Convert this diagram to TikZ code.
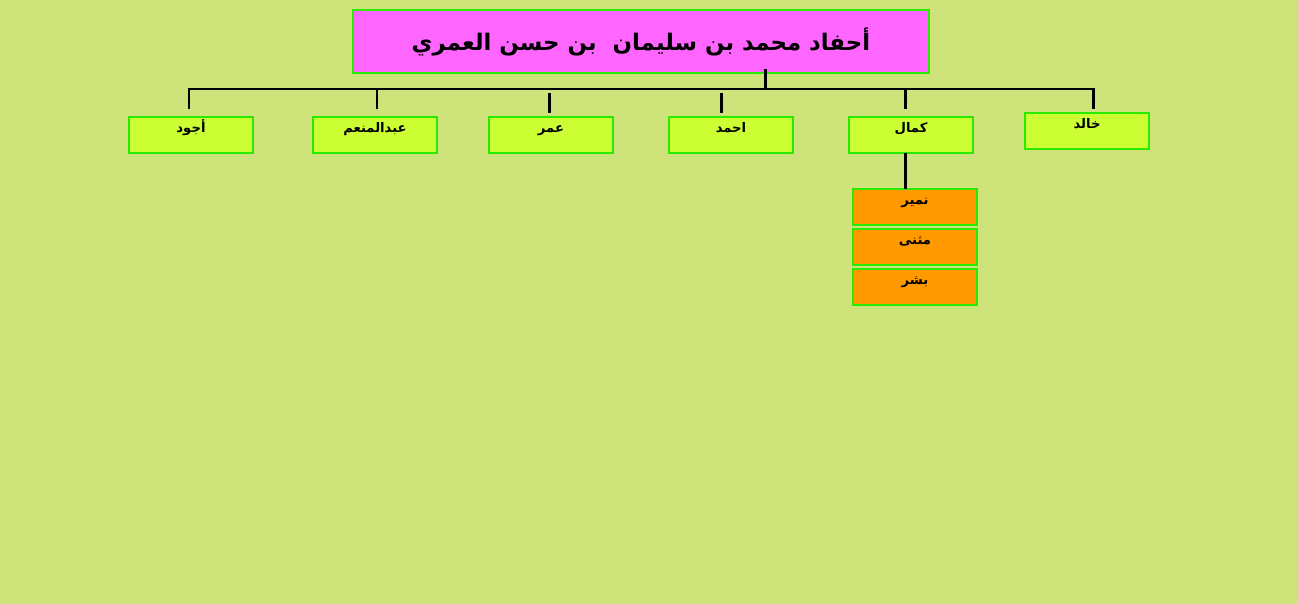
\documentclass[tikz,border=0pt]{standalone}
\usepackage{fontspec}
\newfontfamily\arabicfont[Script=Arabic]{DejaVu Sans}
\TeXXeTstate=1
\usepackage{tikz}
\usetikzlibrary{positioning}
\definecolor{bgcol}{RGB}{207,227,123}
\definecolor{edgegreen}{RGB}{40,235,0}
\definecolor{limefill}{RGB}{204,255,51}
\definecolor{rootfill}{RGB}{255,102,255}
\definecolor{kidfill}{RGB}{255,153,0}

\begin{document}
\begin{tikzpicture}[x=0.02cm,y=-0.02cm,
  rootbox/.style={draw=edgegreen,line width=0.7pt,fill=rootfill,minimum width=11.52cm,minimum height=1.26cm,inner sep=0pt,font=\arabicfont\bfseries\fontsize{13}{16}\selectfont},
  sonbox/.style={draw=edgegreen,line width=0.7pt,fill=limefill,minimum width=2.48cm,minimum height=0.72cm,inner sep=0pt,text height=0.25cm,text depth=0.33cm,font=\arabicfont\bfseries\fontsize{7.5}{9}\selectfont},
  kidbox/.style={sonbox,fill=kidfill},
  link/.style={line width=1.7pt}]
\fill[bgcol] (0,0) rectangle (1298,604);
\useasboundingbox (0,0) rectangle (1298,604);
% root
\node[rootbox] (root) at (641,41.5) {\beginR أحفاد محمد بن سليمان~~بن حسن العمري\endR};
% sons
\node[sonbox] (s1) at (191,135) {\beginR أجود\endR};
\node[sonbox] (s2) at (375,135) {\beginR عبدالمنعم\endR};
\node[sonbox] (s3) at (551,135) {\beginR عمر\endR};
\node[sonbox] (s4) at (731,135) {\beginR احمد\endR};
\node[sonbox] (s5) at (911,135) {\beginR كمال\endR};
\node[sonbox] (s6) at (1087,131) {\beginR خالد\endR};
% sons of kamal
\node[kidbox] (k1) at (915,207) {\beginR نمير\endR};
\node[kidbox] (k2) at (915,247) {\beginR مثنى\endR};
\node[kidbox] (k3) at (915,287) {\beginR بشر\endR};
% bar
\coordinate (bar) at (765,89);
\coordinate (h1) at (189,89);
\coordinate (h6) at (1093,89);
\coordinate (d1) at (189,109);
\coordinate (d2) at (377,109);
\coordinate (u2) at (377,89);
\coordinate (u3) at (549,93);
\coordinate (d3) at (549,113);
\coordinate (u4) at (721,93);
\coordinate (d4) at (721,113);
\coordinate (u5) at (905,89);
\coordinate (d5) at (905,109);
\coordinate (d6) at (1093,109);
\coordinate (k0) at (905,189);
\draw[link] (765,69) -- (bar);
\draw[link] (d1) -- (h1) -- (h6) -- (d6);
\draw[link] (u2) -- (d2);
\draw[link] (u3) -- (d3);
\draw[link] (u4) -- (d4);
\draw[link] (u5) -- (d5);
\draw[link] (905,153) -- (k0);
\end{tikzpicture}
\end{document}
